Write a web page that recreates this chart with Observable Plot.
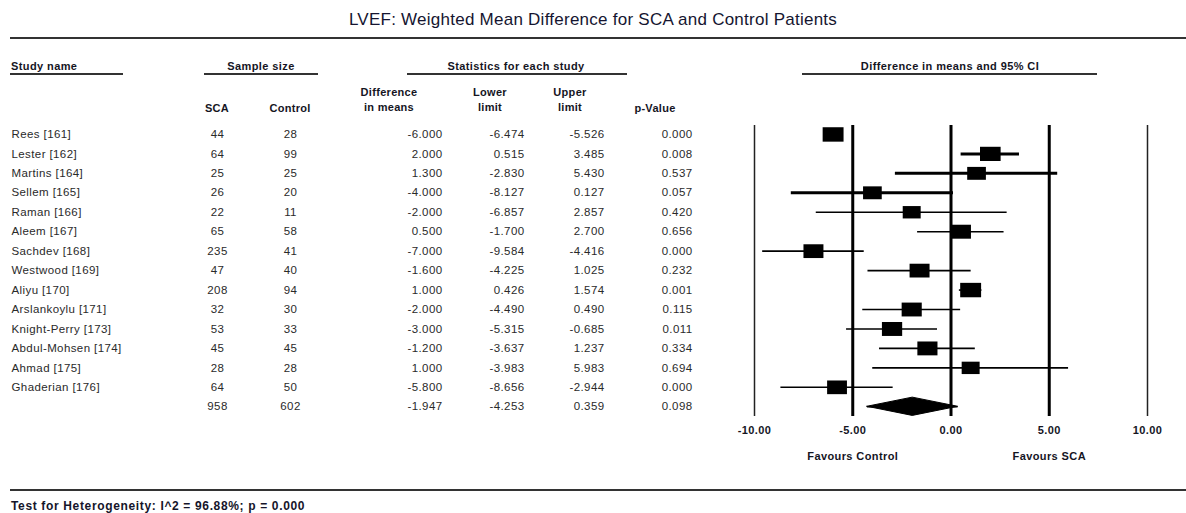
<!DOCTYPE html>
<html>
<head>
<meta charset="utf-8">
<script src="https://cdn.jsdelivr.net/npm/d3@7"></script>
<script src="https://cdn.jsdelivr.net/npm/@observablehq/plot@0.6"></script>
<style>
  html, body { margin: 0; padding: 0; background: #fff; }
  #wrap { position: relative; width: 1186px; height: 513px; overflow: hidden; font-family: 'Liberation Sans', Arial, sans-serif; }
  #wrap svg { position: absolute; left: 0; top: 0; }
  .t { position: absolute; white-space: nowrap; transform: translate(-50%, -50%); }
  .tl { position: absolute; white-space: nowrap; transform: translate(0, -50%); }
  .hb { font-weight: bold; font-size: 11px; letter-spacing: 0.4px; color: #15151f; }
  .ch { font-weight: bold; font-size: 11px; letter-spacing: 0.3px; color: #15151f; text-align: center; line-height: 15px; }
  .rule { position: absolute; background: #333; }
</style>
</head>
<body>
<div id="wrap">
  <div class="t" style="left:593px;top:20px;font-size:17px;color:#151530;letter-spacing:0.25px;">LVEF: Weighted Mean Difference for SCA and Control Patients</div>
  <div class="rule" style="left:10px;right:0;top:37px;height:2px;"></div>

  <div class="tl hb" style="left:11px;top:66px;">Study name</div>
  <div class="rule" style="left:10px;width:113px;top:73px;height:2px;"></div>
  <div class="t hb" style="left:261px;top:66px;">Sample size</div>
  <div class="rule" style="left:204px;width:114px;top:73px;height:2px;"></div>
  <div class="t hb" style="left:516px;top:66px;">Statistics for each study</div>
  <div class="rule" style="left:407px;width:220px;top:73px;height:2px;"></div>
  <div class="t hb" style="left:950px;top:66px;">Difference in means and 95% CI</div>
  <div class="rule" style="left:802px;width:295px;top:73px;height:2px;"></div>

  <div class="t ch" style="left:217px;top:108px;">SCA</div>
  <div class="t ch" style="left:290px;top:108px;">Control</div>
  <div class="t ch" style="left:389px;top:100px;">Difference<br>in means</div>
  <div class="t ch" style="left:490px;top:100px;">Lower<br>limit</div>
  <div class="t ch" style="left:570px;top:100px;">Upper<br>limit</div>
  <div class="t ch" style="left:655px;top:108px;">p-Value</div>

  <div class="rule" style="left:10px;right:0;top:489px;height:2px;"></div>
  <div class="tl" style="left:11px;top:506px;font-size:12px;font-weight:bold;color:#15152a;letter-spacing:0.65px;">Test for Heterogeneity: I^2 = 96.88%; p = 0.000</div>
</div>
<script>
// ---- data ----
const studies = ["Rees [161]", "Lester [162]", "Martins [164]", "Sellem [165]", "Raman [166]", "Aleem [167]", "Sachdev [168]", "Westwood [169]", "Aliyu [170]", "Arslankoylu [171]", "Knight-Perry [173]", "Abdul-Mohsen [174]", "Ahmad [175]", "Ghaderian [176]"];
const scaN = [44, 64, 25, 26, 22, 65, 235, 47, 208, 32, 53, 45, 28, 64];
const controlN = [28, 99, 25, 20, 11, 58, 41, 40, 94, 30, 33, 45, 28, 50];
const diffMeans = [-6.000, 2.000, 1.300, -4.000, -2.000, 0.500, -7.000, -1.600, 1.000, -2.000, -3.000, -1.200, 1.000, -5.800];
const lowerLimit = [-6.474, 0.515, -2.830, -8.127, -6.857, -1.700, -9.584, -4.225, 0.426, -4.490, -5.315, -3.637, -3.983, -8.656];
const upperLimit = [-5.526, 3.485, 5.430, 0.127, 2.857, 2.700, -4.416, 1.025, 1.574, 0.490, -0.685, 1.237, 5.983, -2.944];
const pValues = [0.000, 0.008, 0.537, 0.057, 0.420, 0.656, 0.000, 0.232, 0.001, 0.115, 0.011, 0.334, 0.694, 0.000];
const weights = [8.0, 7.8, 6.4, 6.4, 5.9, 7.5, 7.3, 7.3, 8.0, 7.4, 7.5, 7.4, 5.9, 7.2];
const summaryRow = {name: "", sca: 958, control: 602, diff: -1.947, lower: -4.253, upper: 0.359, p: 0.098};
const xTicks = [-10, -5, 0, 5, 10];
const outerTicks = [-10, 10];
const innerTicks = [-5, 0, 5];
const favours = [{x: -5, label: "Favours Control"}, {x: 5, label: "Favours SCA"}];

// ---- table ----
const studyRows = studies.map((name, i) => ({
  idx: i, name, sca: scaN[i], control: controlN[i], diff: diffMeans[i],
  lower: lowerLimit[i], upper: upperLimit[i], p: pValues[i], w: weights[i]
}));
const sumIdx = studies.length;
const allRows = [...studyRows, {...summaryRow, idx: sumIdx}];
const f3 = v => v.toFixed(3);

const halfH = 0.47;
const diamond = [
  {x: summaryRow.lower, y1: sumIdx, y2: sumIdx},
  {x: summaryRow.diff, y1: sumIdx - halfH, y2: sumIdx + halfH},
  {x: summaryRow.upper, y1: sumIdx, y2: sumIdx}
];

// custom wide box symbol (width:height ≈ 1.45)
const wideBox = {
  draw(ctx, size) {
    const a = 1.45;
    const h = Math.sqrt(size / a), w = a * h;
    ctx.rect(-w / 2, -h / 2, w, h);
  }
};

const xLeft = 754, xRight = 1147, W = 1186, H = 513;
const colText = (key, dxPix, anchor, fmt) => Plot.text(allRows, {
  y: "idx", text: d => fmt(d[key]), frameAnchor: "left", dx: dxPix - xLeft, textAnchor: anchor,
  fill: "#2a2a2a", fontSize: 11.5
});

const chart = Plot.plot({
  width: W, height: H,
  marginLeft: xLeft, marginRight: W - xRight, marginTop: 125, marginBottom: H - 416,
  style: {fontFamily: "'Liberation Sans', Arial, sans-serif", fontSize: "12px", letterSpacing: "0.4px", background: "transparent", overflow: "visible"},
  x: {domain: [-10, 10]},
  y: {domain: [-0.46, 14.5], reverse: true, axis: null},
  r: {type: "sqrt", domain: [0, 8], range: [0, 9.8]},
  marks: [
    Plot.ruleX(outerTicks, {stroke: "#222", strokeWidth: 1.5}),
    Plot.ruleX(innerTicks, {stroke: "#000", strokeWidth: 3}),
    Plot.ruleY(studyRows, {y: "idx", x1: "lower", x2: "upper", stroke: "#000",
      strokeWidth: d => (d.idx >= 1 && d.idx <= 3) ? 3 : 1.6}),
    Plot.dot(studyRows, {x: "diff", y: "idx", r: "w", symbol: wideBox, fill: "#000", stroke: "none"}),
    Plot.ruleY([summaryRow], {y: () => sumIdx, x1: "lower", x2: "upper", stroke: "#000", strokeWidth: 1.5}),
    Plot.areaY(diamond, {x: "x", y1: "y1", y2: "y2", fill: "#000", stroke: "#000", strokeWidth: 1, curve: "linear"}),
    Plot.axisX(xTicks, {tickSize: 0, tickPadding: 10, tickFormat: d => d.toFixed(2), fontWeight: "bold", fontSize: 11, fill: "#15151f", label: null}),
    Plot.text(favours, {x: "x", text: "label", frameAnchor: "bottom", dy: 43, fontWeight: "bold", fontSize: 11, fill: "#15151f"}),
    colText("name", 11, "start", v => v),
    colText("sca", 217, "middle", v => String(v)),
    colText("control", 290, "middle", v => String(v)),
    colText("diff", 442, "end", f3),
    colText("lower", 524, "end", f3),
    colText("upper", 604, "end", f3),
    colText("p", 692, "end", f3)
  ]
});
document.getElementById("wrap").prepend(chart);
</script>
</body>
</html>
